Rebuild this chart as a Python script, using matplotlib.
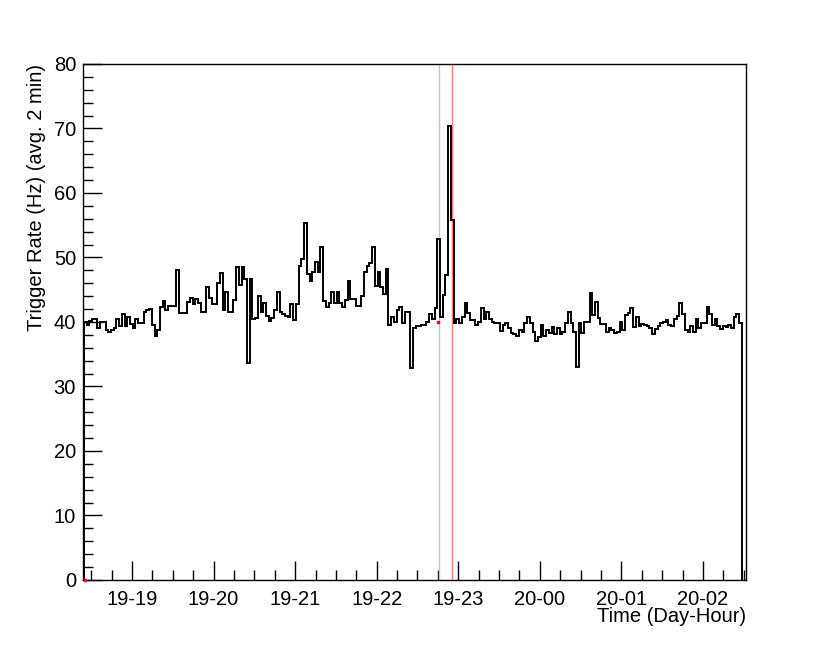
import numpy as np
import matplotlib
matplotlib.use("Agg")
import matplotlib.pyplot as plt
from matplotlib.ticker import MultipleLocator, FixedLocator, FixedFormatter

# ---- data (2-minute averaged trigger rate, Hz) ----
start_hour = 18.41          # first bin edge, hours since day-19 00:00
bin_minutes = 2.0

rate_hz = [
    40.0, 39.5, 40.2, 40.4, 40.4, 39.0, 40.0, 40.0, 38.8, 38.5,
    38.8, 39.0, 40.5, 39.3, 41.2, 39.3, 40.7, 39.7, 39.0, 40.5,
    39.9, 39.9, 41.6, 41.9, 42.0, 39.5, 37.9, 38.8, 42.4, 43.3,
    41.9, 42.5, 42.5, 42.5, 48.1, 41.4, 41.4, 41.4, 43.1, 43.7,
    42.8, 43.5, 42.9, 41.6, 41.6, 45.5, 43.7, 42.8, 42.8, 46.0,
    47.6, 41.9, 44.7, 41.5, 41.5, 43.4, 48.6, 45.8, 48.6, 46.6,
    33.6, 46.6,
    40.4, 40.6, 44.0, 41.6, 43.0, 40.9, 40.1, 40.6, 41.8, 44.7,
    41.6, 41.2, 40.9, 40.7, 42.8, 40.3, 42.8, 48.7, 49.7, 55.3,
    47.5, 46.3, 47.8, 49.3, 47.8, 51.6, 43.2, 42.4, 42.9, 44.7,
    43.0, 44.7, 43.0, 42.3, 43.4, 46.4, 43.5, 43.5, 42.5, 42.5,
    44.0, 47.8, 48.7, 49.2, 51.6, 45.6, 47.7, 45.5, 44.3, 48.2,
    39.5, 40.8, 40.0, 41.9, 42.4, 39.8, 41.6, 41.6, 32.8,
    39.0, 39.4, 39.4, 39.5, 39.5, 40.0, 41.2, 40.5, 42.1, 52.8,
    40.8, 44.2, 47.3, 70.4, 55.8, 39.8, 40.5, 39.8, 40.8, 43.0,
    41.4, 40.3, 40.3, 39.5, 40.0, 42.1, 40.4, 41.6, 40.5, 40.0,
    39.8, 39.8, 38.6,
    39.6, 39.8, 39.0, 38.3, 38.1, 37.8, 38.7, 38.5, 39.9, 40.8,
    39.8, 38.5, 37.1, 37.6, 39.5, 37.9, 38.8, 38.3, 39.2, 38.1,
    39.0, 38.2, 38.5, 39.8, 41.6, 39.8, 38.5, 33.0, 39.8, 38.3,
    40.0, 40.0, 44.5, 41.1, 43.1, 40.6, 39.7, 39.7, 38.5,
    39.0, 38.8, 38.3, 38.5, 40.0, 38.8, 41.1, 41.4, 42.1, 39.2,
    40.8, 39.3, 39.7, 39.5, 39.4, 39.0, 38.1, 38.9, 39.3, 39.8,
    40.0, 40.3, 39.5, 39.4, 40.4, 41.0, 43.0, 41.3, 38.7, 38.5,
    39.3, 38.5, 40.4, 39.0, 39.9, 39.8, 42.3, 41.3, 39.5, 40.4,
    39.3, 38.9, 39.3, 39.2, 39.5, 39.0, 40.7, 41.2, 39.8,
]

tick_hours = [19, 20, 21, 22, 23, 24, 25, 26]
tick_labels = ["19-19", "19-20", "19-21", "19-22", "19-23", "20-00", "20-01", "20-02"]
x_range = (18.40, 26.527)
y_range = (0, 80)
marker_hours = [22.767, 22.929]     # vertical marker lines
marker_colors = ["#e8b4b4", "#ff7a7a"]
red_points_x = [22.757, 18.43]
red_points_y = [40.0, 0.0]

# ---- plot ----
plt.rcParams['font.family'] = ['Liberation Sans', 'DejaVu Sans']
fig = plt.figure(figsize=(8.3, 6.45), dpi=100)
ax = fig.add_axes([0.1, 0.1008, 0.7988, 0.8000])

edges = start_hour + np.arange(len(rate_hz) + 1) * bin_minutes / 60.0
ax.stairs(rate_hz, edges, baseline=0, color="black", linewidth=1.4, zorder=3)

for h, c in zip(marker_hours, marker_colors):
    ax.axvline(h, color=c, linewidth=1.0, zorder=2)
ax.plot(red_points_x, red_points_y, linestyle="none", marker="s",
        markersize=1.6, color="red", zorder=4, clip_on=False)

ax.set_xlim(*x_range)
ax.set_ylim(*y_range)

ax.xaxis.set_major_locator(FixedLocator(tick_hours))
ax.xaxis.set_major_formatter(FixedFormatter(tick_labels))
ax.xaxis.set_minor_locator(MultipleLocator(0.25))
ax.yaxis.set_major_locator(MultipleLocator(10))
ax.yaxis.set_minor_locator(MultipleLocator(2))

ax.tick_params(which="both", direction="in", top=False, right=False,
               labelsize=14.5, width=1.0, color="black")
ax.tick_params(which="major", length=14)
ax.tick_params(which="minor", length=7)
ax.tick_params(axis="y", pad=5)
ax.tick_params(axis="x", pad=7)
for s in ax.spines.values():
    s.set_linewidth(1.0)

fig.text(37 / 830, 1 - 64 / 645, "Trigger Rate (Hz) (avg. 2 min)", rotation=90,
         ha="center", va="top", fontsize=14.5)
fig.text(746 / 830, 1 - 617 / 645, "Time (Day-Hour)", ha="right", va="center",
         fontsize=14.5)

fig.savefig("out.png", dpi=100)
